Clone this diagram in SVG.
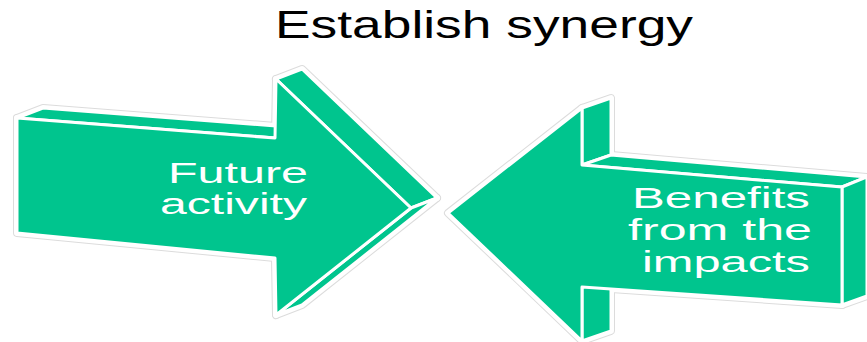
<svg xmlns="http://www.w3.org/2000/svg" xmlns:xlink="http://www.w3.org/1999/xlink" width="867" height="342" viewBox="0 0 867 342">
  <style>
    .halo-g { fill: #dcdcdc; stroke: #dcdcdc; stroke-width: 8; stroke-linejoin: round; }
    .halo-w { fill: #ffffff; stroke: #ffffff; stroke-width: 6; stroke-linejoin: round; }
    .face { fill: #00C58E; stroke: #ffffff; stroke-width: 3; stroke-linejoin: round; }
    .lbl { font-family: "Liberation Sans", Arial, sans-serif; font-size: 29px; fill: #ffffff; }
    .title { font-family: "Liberation Sans", Arial, sans-serif; font-size: 39px; fill: #000000; }
  </style>
  <defs>
    <g id="leftShape">
      <polygon points="17,118 43,108 301,128 275,138"/>
      <polygon points="276,79 302,69 437,198 411,208"/>
      <polygon points="411,208 437,198 302,305 276,315"/>
      <polygon points="17,118 275,138 276,79 411,208 276,315 275,258 17,233"/>
    </g>
    <g id="rightShape">
      <polygon points="582,108 611,98 611,155 582,165"/>
      <polygon points="582,165 611,155 867,177 842,187"/>
      <polygon points="842,187 867,177 867,296 842,305"/>
      <polygon points="582,287 611,277 611,331 582,341"/>
      <polygon points="448,213 582,108 582,165 842,187 842,305 582,287 582,341"/>
    </g>
  </defs>

  <g id="title">
    <text class="title" x="275" y="38" textLength="418" lengthAdjust="spacingAndGlyphs">Establish synergy</text>
  </g>

  <g id="connectors"></g>

  <g id="node-future-activity">
    <use xlink:href="#leftShape" class="halo-g"/>
    <use xlink:href="#leftShape" class="halo-w"/>
    <use xlink:href="#leftShape" class="face"/>
    <text class="lbl" x="168" y="183" textLength="140" lengthAdjust="spacingAndGlyphs">Future</text>
    <text class="lbl" x="160" y="214" textLength="147" lengthAdjust="spacingAndGlyphs">activity</text>
  </g>

  <g id="node-benefits">
    <use xlink:href="#rightShape" class="halo-g"/>
    <use xlink:href="#rightShape" class="halo-w"/>
    <use xlink:href="#rightShape" class="face"/>
    <text class="lbl" x="632" y="208" textLength="178" lengthAdjust="spacingAndGlyphs">Benefits</text>
    <text class="lbl" x="628" y="240" textLength="184" lengthAdjust="spacingAndGlyphs">from the</text>
    <text class="lbl" x="642" y="272" textLength="168" lengthAdjust="spacingAndGlyphs">impacts</text>
  </g>
</svg>
